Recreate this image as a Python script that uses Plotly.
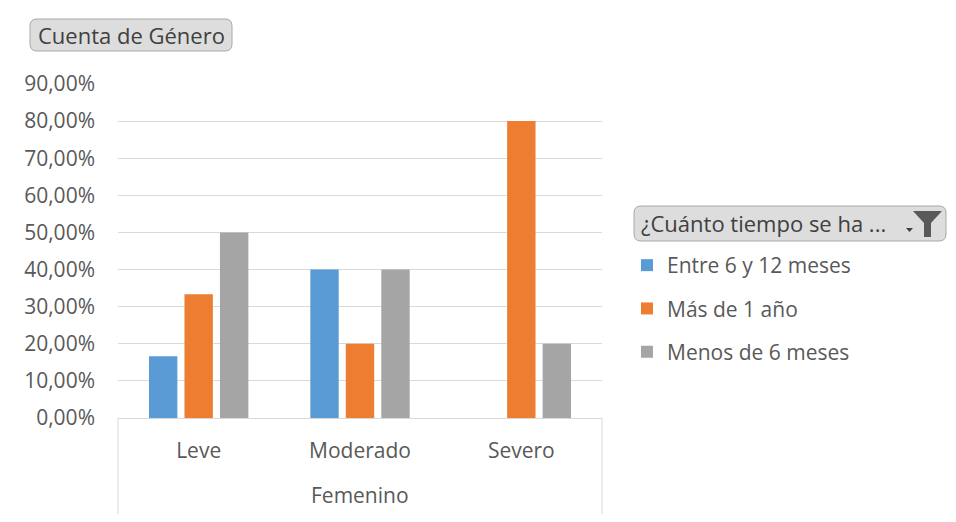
import plotly.graph_objects as go

# data
categories = ["Leve", "Moderado", "Severo"]
group_label = "Femenino"
series_names = ["Entre 6 y 12 meses", "Más de 1 año", "Menos de 6 meses"]
entre_6_12 = [0.1667, 0.40, None]
mas_1_anio = [0.3333, 0.20, 0.80]
menos_6 = [0.50, 0.40, 0.20]
series_values = [entre_6_12, mas_1_anio, menos_6]
colors = ["#5B9BD5", "#ED7D31", "#A5A5A5"]

FONT = "Open Sans"
OFF = 8  # page body margin
W, H = 956 - 2 * OFF, 522 - 2 * OFF
# plot area in screen pixels
L, R, T, B = 118, 602, 84, 418


def px_x(x):
    return (x - L) / (R - L)


def px_y(y):
    return (B - y) / (B - T)


def rounded_box(x0, y0, x1, y1, r=7):
    pts = [
        f"M{px_x(x0 + r)},{px_y(y0)}",
        f"L{px_x(x1 - r)},{px_y(y0)}",
        f"Q{px_x(x1)},{px_y(y0)} {px_x(x1)},{px_y(y0 + r)}",
        f"L{px_x(x1)},{px_y(y1 - r)}",
        f"Q{px_x(x1)},{px_y(y1)} {px_x(x1 - r)},{px_y(y1)}",
        f"L{px_x(x0 + r)},{px_y(y1)}",
        f"Q{px_x(x0)},{px_y(y1)} {px_x(x0)},{px_y(y1 - r)}",
        f"L{px_x(x0)},{px_y(y0 + r)}",
        f"Q{px_x(x0)},{px_y(y0)} {px_x(x0 + r)},{px_y(y0)}",
        "Z",
    ]
    return " ".join(pts)


def poly(points):
    return "M" + " L".join(f"{px_x(x)},{px_y(y)}" for x, y in points) + " Z"


fig = go.Figure()
for name, vals, color in zip(series_names, series_values, colors):
    fig.add_trace(go.Bar(
        x=categories,
        y=vals,
        name=name,
        marker=dict(color=color, line=dict(width=0)),
        legendgroup=name,
    ))

shapes = [
    # category box sides
    dict(type="line", xref="paper", yref="paper", x0=0, x1=0, y0=0, y1=px_y(514),
         line=dict(color="#d9d9d9", width=1)),
    dict(type="line", xref="paper", yref="paper", x0=1, x1=1, y0=0, y1=px_y(514),
         line=dict(color="#d9d9d9", width=1)),
    # field buttons
    dict(type="path", xref="paper", yref="paper", path=rounded_box(30, 19, 232, 51),
         fillcolor="#dddddd", line=dict(color="#a8a8a8", width=1), layer="below"),
    dict(type="path", xref="paper", yref="paper", path=rounded_box(634, 206, 946, 241),
         fillcolor="#dddddd", line=dict(color="#a8a8a8", width=1), layer="below"),
    # filter icon
    dict(type="path", xref="paper", yref="paper",
         path=poly([(913, 211), (942, 211), (931, 223), (931, 237), (924, 237), (924, 223)]),
         fillcolor="#595959", line=dict(width=0)),
    dict(type="path", xref="paper", yref="paper",
         path=poly([(906, 228), (913, 228), (909.5, 232)]),
         fillcolor="#404040", line=dict(width=0)),
]

annotations = [
    dict(text="Cuenta de Género", xref="paper", yref="paper", x=px_x(131), y=px_y(35),
         xanchor="center", yanchor="middle", showarrow=False,
         font=dict(family=FONT, size=22, color="#404040")),
    dict(text="¿Cuánto tiempo se ha ...", xref="paper", yref="paper", x=px_x(639), y=px_y(223),
         xanchor="left", yanchor="middle", showarrow=False,
         font=dict(family=FONT, size=22, color="#404040")),
    dict(text=group_label, xref="paper", yref="paper", x=0.5, y=px_y(495),
         xanchor="center", yanchor="middle", showarrow=False,
         font=dict(family=FONT, size=21, color="#595959")),
]

fig.update_layout(
    width=W, height=H,
    margin=dict(l=L - OFF, r=W - (R - OFF), t=T - OFF, b=H - (B - OFF), autoexpand=False),
    paper_bgcolor="white",
    plot_bgcolor="white",
    font=dict(family=FONT, size=21, color="#595959"),
    separators=",.",
    barmode="group",
    bargap=0.34,
    bargroupgap=0.2,
    shapes=shapes,
    annotations=annotations,
    legend=dict(
        x=px_x(627), y=px_y(245), xanchor="left", yanchor="top",
        font=dict(family=FONT, size=21, color="#595959"),
        tracegroupgap=13, bgcolor="rgba(0,0,0,0)",
    ),
    xaxis=dict(
        showline=True, linecolor="#d9d9d9", linewidth=1,
        showgrid=False, ticks="", ticklabelstandoff=14,
        tickfont=dict(family=FONT, size=21, color="#595959"),
    ),
    yaxis=dict(
        range=[0, 0.9], dtick=0.1, tickformat=".2%",
        showgrid=True, gridcolor="#d9d9d9", gridwidth=1,
        zeroline=False, showline=False, ticks="", ticklabelstandoff=22,
        tickfont=dict(family=FONT, size=21, color="#595959"),
    ),
)

fig.write_html("out.html")
